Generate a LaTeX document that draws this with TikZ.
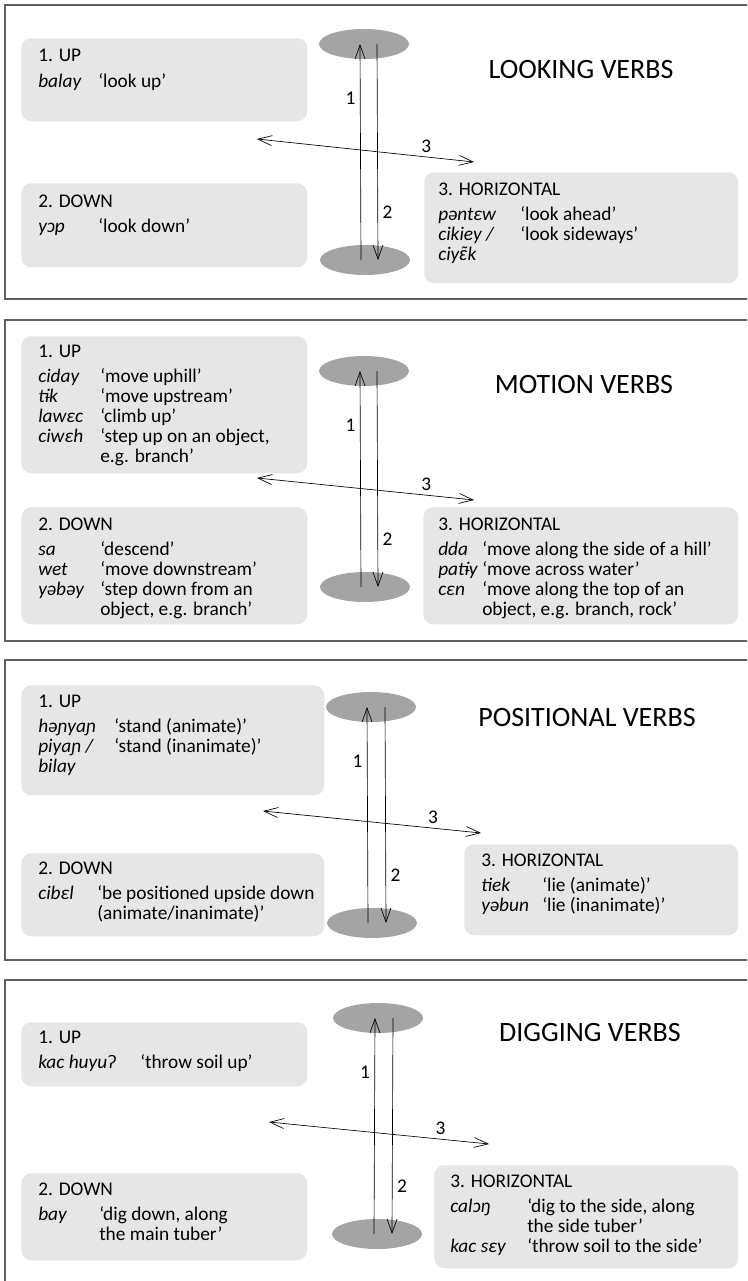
\documentclass[tikz,border=0pt]{standalone}
\usepackage{fontspec}
\setmainfont{Carlito}
\newfontfamily\latofont{Lato}
\usepackage{array}
\usetikzlibrary{arrows.meta,shapes.geometric}

\definecolor{boxgray}{HTML}{E6E6E7}
\definecolor{polegray}{HTML}{A4A4A4}
\definecolor{framegray}{HTML}{606060}

\newlength{\px}\setlength{\px}{0.75pt}
\newcolumntype{W}[1]{>{\itshape}p{#1}}
\newcommand{\hd}[1]{\multicolumn{2}{@{}l@{}}{#1}\\[4pt]}

\begin{document}
\begin{tikzpicture}[x=0.75pt, y=-0.75pt,
  font=\fontsize{14.5}{15}\selectfont,
  panel/.style={draw=framegray, line width=1.1pt},
  verbbox/.style={fill=boxgray, rounded corners=10\px, anchor=north west, inner sep=0pt},
  pole/.style={ellipse, fill=polegray, minimum width=90\px, minimum height=30\px, inner sep=0pt},
  entry/.style={anchor=base west, inner sep=0pt},
  title/.style={font=\fontsize{21}{24}\selectfont},
  arrow/.style={-{Straight Barb[length=10.5pt,width=7.5pt]}, line width=0.5pt},
  twoway/.style={{Straight Barb[length=10.5pt,width=7.5pt]}-{Straight Barb[length=10.5pt,width=7.5pt]}, line width=0.5pt}
]
\useasboundingbox (0,0) rectangle (747,1281);
\clip (0,0) rectangle (747,1281);

% looking verbs
\draw[panel] (5,5) rectangle (760,299);
\node[verbbox, minimum width=286\px, minimum height=83\px] (up1) at (21,38) {};
\node[verbbox, minimum width=286\px, minimum height=84\px] (down1) at (21,183) {};
\node[verbbox, minimum width=314\px, minimum height=111\px] (hor1) at (424,172) {};
\node[pole] (top1) at (364,44) {};
\node[pole] (bot1) at (365,260) {};
\node[title] (name1) at (581,70) {LOOKING VERBS};
\node[entry] (up1txt) at (38,62) {\begin{tabular}[t]{@{}W{60\px}@{}l@{}}
  \hd{1. UP}
  balay & ‘look up’
\end{tabular}};
\node[entry] (down1txt) at (38,207) {\begin{tabular}[t]{@{}W{60\px}@{}l@{}}
  \hd{2. DOWN}
  yɔp & ‘look down’
\end{tabular}};
\node[entry] (hor1txt) at (438,195) {\begin{tabular}[t]{@{}W{82\px}@{}l@{}}
  \hd{3. HORIZONTAL}
  pəntɛw & ‘look ahead’\\
  cikiey / & ‘look sideways’\\
  ciy{\latofont ɛ̃}k &
\end{tabular}};
\draw[arrow] ([xshift=-4\px]bot1.center) -- ([xshift=-4\px]top1.center) node[pos=.75, left] {1};
\draw[arrow] ([xshift=13\px]top1.center) -- ([xshift=13\px]bot1.center) node[pos=.78, right] {2};
\coordinate (w1) at (257,139);
\coordinate (e1) at (474,162);
\draw[twoway] (w1) -- (e1) node[pos=.78, above] {3};

% motion verbs
\draw[panel] (5,320) rectangle (760,641);
\node[verbbox, minimum width=286\px, minimum height=137\px] (up2) at (21,336) {};
\node[verbbox, minimum width=286\px, minimum height=117\px] (down2) at (21,507) {};
\node[verbbox, minimum width=315\px, minimum height=117\px] (hor2) at (423,507) {};
\node[pole] (top2) at (364,371) {};
\node[pole] (bot2) at (365,587) {};
\node[title] (name2) at (584,385) {MOTION VERBS};
\node[entry] (up2txt) at (38,357) {\begin{tabular}[t]{@{}W{62\px}@{}l@{}}
  \hd{1. UP}
  ciday & ‘move uphill’\\
  tɨk & ‘move upstream’\\
  lawɛc & ‘climb up’\\
  ciwɛh & ‘step up on an object,\\
  & e.g. branch’
\end{tabular}};
\node[entry] (down2txt) at (38,530) {\begin{tabular}[t]{@{}W{62\px}@{}l@{}}
  \hd{2. DOWN}
  sa & ‘descend’\\
  wet & ‘move downstream’\\
  yəbəy & ‘step down from an\\
  & object, e.g. branch’
\end{tabular}};
\node[entry] (hor2txt) at (438,530) {\begin{tabular}[t]{@{}W{44\px}@{}l@{}}
  \hd{3. HORIZONTAL}
  dda & ‘move along the side of a hill’\\
  patɨy & ‘move across water’\\
  cɛn & ‘move along the top of an\\
  & object, e.g. branch, rock’
\end{tabular}};
\draw[arrow] ([xshift=-4\px]bot2.center) -- ([xshift=-4\px]top2.center) node[pos=.75, left] {1};
\draw[arrow] ([xshift=13\px]top2.center) -- ([xshift=13\px]bot2.center) node[pos=.78, right] {2};
\coordinate (w2) at (257,478);
\coordinate (e2) at (474,500);
\draw[twoway] (w2) -- (e2) node[pos=.78, above] {3};

% positional verbs
\draw[panel] (5,660) rectangle (760,960);
\node[verbbox, minimum width=303\px, minimum height=110\px] (up3) at (21,685) {};
\node[verbbox, minimum width=303\px, minimum height=83\px] (down3) at (21,853) {};
\node[verbbox, minimum width=274\px, minimum height=91\px] (hor3) at (464,844) {};
\node[pole] (top3) at (371,707) {};
\node[pole] (bot3) at (372,923) {};
\node[title] (name3) at (587,718) {POSITIONAL VERBS};
\node[entry] (up3txt) at (38,707) {\begin{tabular}[t]{@{}W{76\px}@{}l@{}}
  \hd{1. UP}
  həɲyaɲ & ‘stand (animate)’\\
  piyaɲ / & ‘stand (inanimate)’\\
  bilay &
\end{tabular}};
\node[entry] (down3txt) at (38,874) {\begin{tabular}[t]{@{}W{59\px}@{}l@{}}
  \hd{2. DOWN}
  cibɛl & ‘be positioned upside down\\
  & (animate/inanimate)’
\end{tabular}};
\node[entry] (hor3txt) at (481,866) {\begin{tabular}[t]{@{}W{61\px}@{}l@{}}
  \hd{3. HORIZONTAL}
  tiek & ‘lie (animate)’\\
  yəbun & ‘lie (inanimate)’
\end{tabular}};
\draw[arrow] ([xshift=-4\px]bot3.center) -- ([xshift=-4\px]top3.center) node[pos=.75, left] {1};
\draw[arrow] ([xshift=14\px]top3.center) -- ([xshift=14\px]bot3.center) node[pos=.78, right] {2};
\coordinate (w3) at (263,811);
\coordinate (e3) at (481,833);
\draw[twoway] (w3) -- (e3) node[pos=.78, above] {3};

% digging verbs
\draw[panel] (5,980) rectangle (760,1300);
\node[verbbox, minimum width=286\px, minimum height=64\px] (up4) at (21,1022) {};
\node[verbbox, minimum width=286\px, minimum height=87\px] (down4) at (21,1173) {};
\node[verbbox, minimum width=304\px, minimum height=103\px] (hor4) at (434,1165) {};
\node[pole] (top4) at (378,1018) {};
\node[pole] (bot4) at (377,1234) {};
\node[title] (name4) at (590,1032) {DIGGING VERBS};
\node[entry] (up4txt) at (38,1043) {\begin{tabular}[t]{@{}W{102\px}@{}l@{}}
  \hd{1. UP}
  kac huyuʔ & ‘throw soil up’
\end{tabular}};
\node[entry] (down4txt) at (38,1195) {\begin{tabular}[t]{@{}W{61\px}@{}l@{}}
  \hd{2. DOWN}
  bay & ‘dig down, along\\
  & the main tuber’
\end{tabular}};
\node[entry] (hor4txt) at (450,1187) {\begin{tabular}[t]{@{}W{77\px}@{}l@{}}
  \hd{3. HORIZONTAL}
  calɔŋ & ‘dig to the side, along\\
  & the side tuber’\\
  kac sɛy & ‘throw soil to the side’
\end{tabular}};
\draw[arrow] ([xshift=-3\px]bot4.center) -- ([xshift=-3\px]top4.center) node[pos=.75, left] {1};
\draw[arrow] ([xshift=15\px]top4.center) -- ([xshift=15\px]bot4.center) node[pos=.78, right] {2};
\coordinate (w4) at (269,1122);
\coordinate (e4) at (489,1144);
\draw[twoway] (w4) -- (e4) node[pos=.78, above] {3};

\end{tikzpicture}
\end{document}
